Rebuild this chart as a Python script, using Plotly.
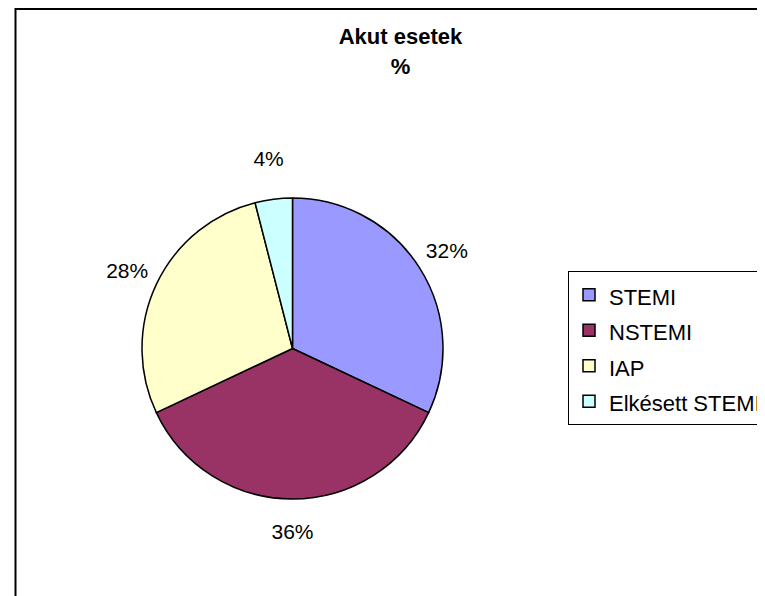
import plotly.graph_objects as go

categories = ["STEMI", "NSTEMI", "IAP", "Elkésett STEMI"]
values = [32, 36, 28, 4]
colors = ["#9999FF", "#993366", "#FFFFCC", "#CCFFFF"]
title_lines = ["Akut esetek", "%"]

W, H = 765, 596

# pie geometry (pixels, figure coordinates)
CX, CY, R = 284.5, 340.5, 150.5
R_OUT = 215            # outer radius of the transparent label ring


def px_x(v):
    return v / W


def px_y(v):
    return 1 - v / H


legend_labels = ["<span style='font-size:22px'>%s</span>" % c for c in categories]
title_text = "<br>".join("<b><span style='font-size:22px'>%s</span></b>" % t for t in title_lines)

fig = go.Figure()
# main pie
fig.add_trace(go.Pie(
    labels=legend_labels,
    values=values,
    sort=False,
    direction="clockwise",
    rotation=0,
    marker=dict(colors=colors, line=dict(color="black", width=1.5)),
    textinfo="none",
    domain=dict(x=[px_x(CX - R), px_x(CX + R)], y=[px_y(CY + R), px_y(CY - R)]),
    showlegend=True,
    hoverinfo="percent",
))
# transparent ring carrying the percentage labels outside the pie
fig.add_trace(go.Pie(
    labels=legend_labels,
    values=values,
    sort=False,
    direction="clockwise",
    rotation=0,
    hole=R / R_OUT,
    marker=dict(colors=["rgba(0,0,0,0)"] * len(values), line=dict(width=0)),
    textposition="inside",
    insidetextorientation="horizontal",
    texttemplate="%{percent:.0%}",
    insidetextfont=dict(family="Liberation Sans, Arial", size=21, color="black"),
    domain=dict(x=[px_x(CX - R_OUT), px_x(CX + R_OUT)], y=[px_y(CY + R_OUT), px_y(CY - R_OUT)]),
    showlegend=False,
    hoverinfo="skip",
))

fig.update_layout(
    width=W, height=H,
    margin=dict(l=0, r=0, t=0, b=0),
    paper_bgcolor="white",
    plot_bgcolor="white",
    font=dict(family="Liberation Sans, Arial", color="black"),
    title=dict(
        text=title_text,
        x=px_x(392.5), xanchor="center",
        y=px_y(36), yanchor="top",
        font=dict(size=23, family="Liberation Sans, Arial", color="black"),
    ),
    legend=dict(
        x=px_x(560), xanchor="left",
        y=px_y(263), yanchor="top",
        bordercolor="black", borderwidth=1,
        bgcolor="white",
        font=dict(size=25, family="Liberation Sans, Arial", color="black"),
    ),
    shapes=[dict(
        type="rect", xref="paper", yref="paper",
        x0=px_x(7.5), x1=1.05, y0=-0.05, y1=px_y(1),
        line=dict(color="black", width=2), fillcolor="rgba(0,0,0,0)",
    )],
)

fig.write_html("out.html")
